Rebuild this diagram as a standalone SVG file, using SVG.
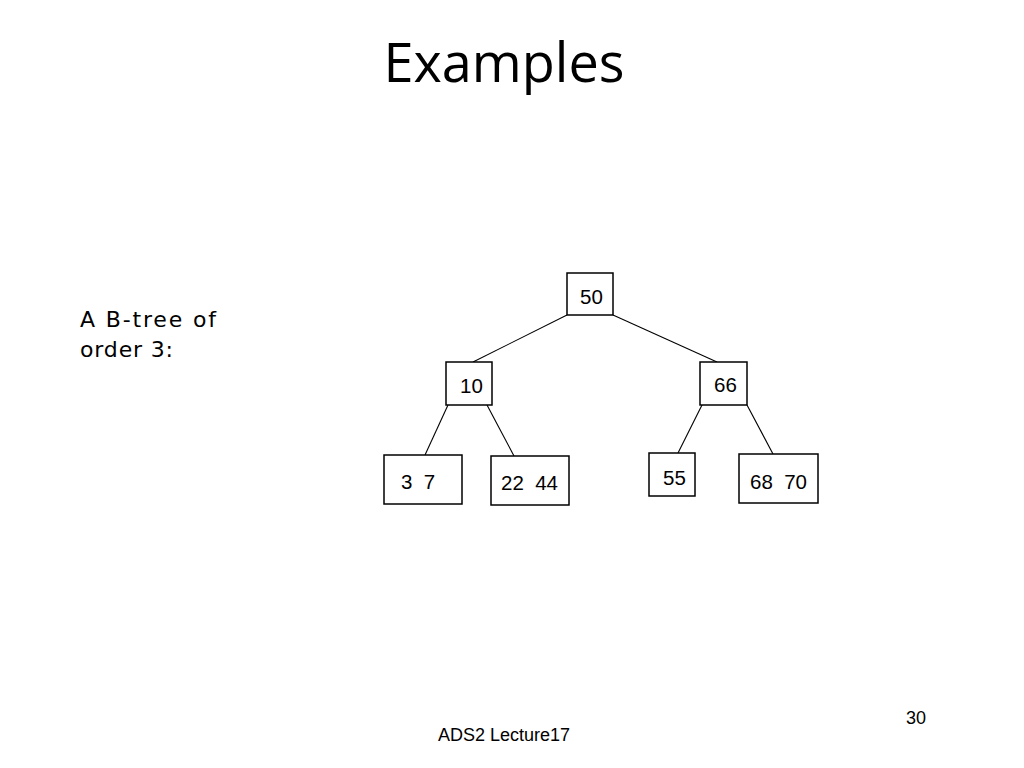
<svg xmlns="http://www.w3.org/2000/svg" width="1024" height="768" viewBox="0 0 1024 768">
<style>
.box{fill:#fff;stroke:#000;stroke-width:1.5}
.edge{stroke:#000;stroke-width:1.1;fill:none}
.key{font-family:"Liberation Sans",Arial,sans-serif;font-size:20.5px;fill:#000}
.title{font-family:"Open Sans","Noto Sans",sans-serif;font-size:54px;fill:#000}
.foot{font-family:"Liberation Sans",Arial,sans-serif;font-size:18px;fill:#000}
.note{font-family:"DejaVu Sans",sans-serif;font-size:22px;fill:#000}
</style>
<rect width="1024" height="768" fill="#fff"/>
<text class="title" x="504" y="82" text-anchor="middle">Examples</text>
<text class="note" x="80" y="327" textLength="136" lengthAdjust="spacing">A B-tree of</text>
<text class="note" x="80" y="357" textLength="93" lengthAdjust="spacing">order 3:</text>
<g id="connectors">
<line class="edge" x1="567" y1="315" x2="473" y2="362"/>
<line class="edge" x1="613" y1="315" x2="717" y2="362"/>
<line class="edge" x1="448" y1="405" x2="425" y2="455"/>
<line class="edge" x1="487" y1="405" x2="514" y2="456"/>
<line class="edge" x1="702" y1="405" x2="678" y2="453"/>
<line class="edge" x1="747" y1="405" x2="773" y2="454"/>
</g>
<g id="n50"><rect class="box" x="567" y="273" width="46" height="42"/><text class="key" x="580" y="304">50</text></g>
<g id="n10"><rect class="box" x="446" y="362" width="46" height="43"/><text class="key" x="460" y="393">10</text></g>
<g id="n66"><rect class="box" x="700" y="362" width="47" height="43"/><text class="key" x="714" y="392">66</text></g>
<g id="n3_7"><rect class="box" x="384" y="455" width="78" height="49"/><text class="key" x="401" y="489" xml:space="preserve">3  7</text></g>
<g id="n22_44"><rect class="box" x="491" y="456" width="78" height="49"/><text class="key" x="501" y="490" xml:space="preserve">22  44</text></g>
<g id="n55"><rect class="box" x="649" y="453" width="46" height="43"/><text class="key" x="663" y="485">55</text></g>
<g id="n68_70"><rect class="box" x="739" y="454" width="79" height="49"/><text class="key" x="750" y="489" xml:space="preserve">68  70</text></g>
<text class="foot" x="926" y="724" text-anchor="end">30</text>
<text class="foot" x="438" y="741">ADS2 Lecture17</text>
</svg>
